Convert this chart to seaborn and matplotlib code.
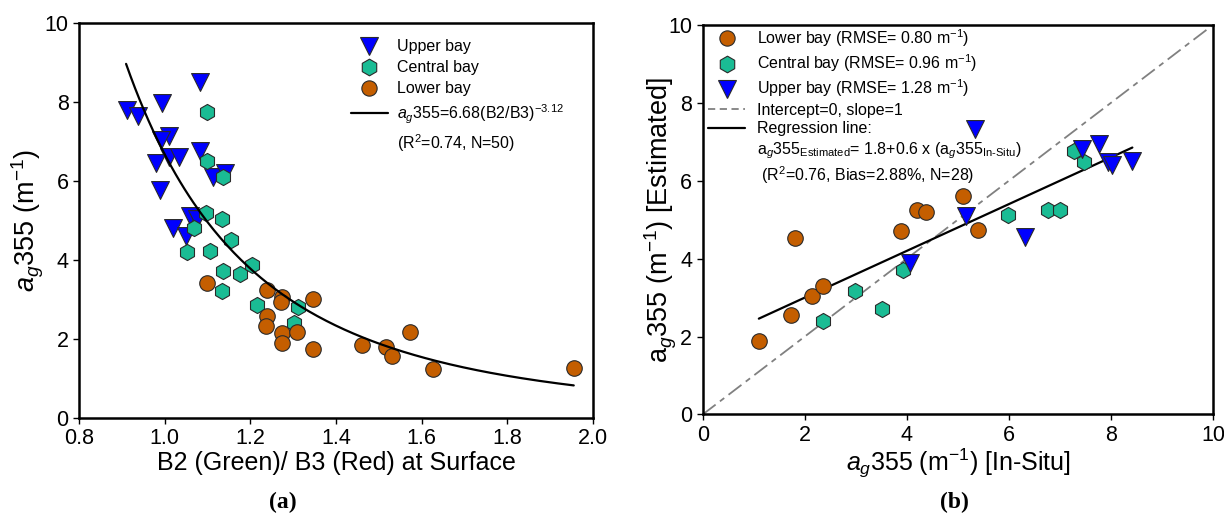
import numpy as np
import pandas as pd
import matplotlib
matplotlib.use("Agg")
import matplotlib.pyplot as plt
import seaborn as sns
from matplotlib.lines import Line2D

# ---- data ----
# panel (a): band ratio vs ag355
upper_ratio = [1.082, 0.911, 0.938, 0.993, 1.011, 0.991, 0.980, 1.011, 1.034, 1.082,
               1.113, 1.141, 0.989, 1.059, 1.075, 1.020, 1.050]
upper_ag = [8.51, 7.81, 7.65, 7.98, 7.14, 7.04, 6.46, 6.60, 6.62, 6.77,
            6.11, 6.19, 5.77, 5.11, 5.05, 4.80, 4.61]
central_ratio = [1.098, 1.098, 1.137, 1.096, 1.135, 1.068, 1.156, 1.053, 1.106, 1.137,
                 1.177, 1.205, 1.134, 1.216, 1.312, 1.302]
central_ag = [7.75, 6.51, 6.11, 5.20, 5.05, 4.80, 4.51, 4.19, 4.24, 3.72,
              3.65, 3.87, 3.22, 2.86, 2.80, 2.40]
lower_ratio = [1.098, 1.239, 1.273, 1.271, 1.347, 1.239, 1.236, 1.273, 1.309, 1.273,
               1.347, 1.460, 1.572, 1.516, 1.530, 1.627, 1.955]
lower_ag = [3.43, 3.24, 3.06, 2.93, 3.01, 2.57, 2.34, 2.14, 2.18, 1.89,
            1.74, 1.85, 2.18, 1.81, 1.58, 1.24, 1.26]
fit_a, fit_b = 6.68, -3.12
fit_range = [0.91, 1.955]

# panel (b): in-situ vs estimated
lower_insitu = [1.10, 1.73, 1.81, 2.14, 2.36, 3.88, 4.20, 4.37, 5.40, 5.11]
lower_est = [1.88, 2.56, 4.54, 3.04, 3.31, 4.70, 5.24, 5.20, 4.73, 5.60]
central_insitu = [2.36, 2.99, 3.52, 3.93, 5.98, 6.76, 7.01, 7.28, 7.48]
central_est = [2.39, 3.18, 2.71, 3.72, 5.12, 5.25, 5.25, 6.77, 6.47]
upper_insitu = [4.06, 5.16, 5.33, 6.32, 7.43, 7.77, 7.95, 8.03, 8.42]
upper_est = [3.90, 5.10, 7.33, 4.56, 6.82, 6.95, 6.47, 6.40, 6.50]
reg_intercept, reg_slope = 1.8, 0.6

# ---- styling ----
sns.set_theme(style="ticks")
plt.rcParams['font.family'] = ['Liberation Sans', 'DejaVu Sans']
plt.rcParams['mathtext.fontset'] = 'custom'
plt.rcParams['mathtext.rm'] = 'Liberation Sans'
plt.rcParams['mathtext.it'] = 'Liberation Sans:italic'
plt.rcParams['mathtext.bf'] = 'Liberation Sans:bold'
for k in ['text.color', 'axes.labelcolor', 'xtick.color', 'ytick.color', 'axes.edgecolor']:
    plt.rcParams[k] = 'black'

c_upper = "#0000FF"
c_central = "#1ABC94"
c_lower = "#C45E00"
edge = "#2a2a2a"
mk = {"Upper bay": "v", "Central bay": "h", "Lower bay": "o"}
pal = {"Upper bay": c_upper, "Central bay": c_central, "Lower bay": c_lower}
sizes = {"Upper bay": 165, "Central bay": 135, "Lower bay": 125}

df_a = pd.concat([
    pd.DataFrame({"ratio": upper_ratio, "ag": upper_ag, "site": "Upper bay"}),
    pd.DataFrame({"ratio": central_ratio, "ag": central_ag, "site": "Central bay"}),
    pd.DataFrame({"ratio": lower_ratio, "ag": lower_ag, "site": "Lower bay"}),
])
df_b = pd.concat([
    pd.DataFrame({"insitu": lower_insitu, "est": lower_est, "site": "Lower bay"}),
    pd.DataFrame({"insitu": central_insitu, "est": central_est, "site": "Central bay"}),
    pd.DataFrame({"insitu": upper_insitu, "est": upper_est, "site": "Upper bay"}),
])

fig = plt.figure(figsize=(12.24, 5.17), dpi=100)
ax1 = fig.add_axes([0.0645, 0.1915, 0.42, 0.764])
ax2 = fig.add_axes([0.5741, 0.1983, 0.4169, 0.7535])

blank = Line2D([], [], ls="", marker="")

# ---- panel (a) ----
for site in ["Upper bay", "Central bay", "Lower bay"]:
    sub = df_a[df_a.site == site]
    sns.scatterplot(data=sub, x="ratio", y="ag", ax=ax1, marker=mk[site], color=pal[site],
                    s=sizes[site], edgecolor=edge, linewidth=0.8, legend=False, zorder=3)
xf = np.linspace(fit_range[0], fit_range[1], 200)
ax1.plot(xf, fit_a * xf ** fit_b, color="black", lw=1.6, zorder=4)

ax1.set_xlim(0.8, 2.0)
ax1.set_ylim(0, 10)
ax1.set_xticks(np.arange(0.8, 2.01, 0.2))
ax1.set_xticklabels(["0.8", "1.0", "1.2", "1.4", "1.6", "1.8", "2.0"])
ax1.set_yticks(range(0, 11, 2))
ax1.set_xlabel("B2 (Green)/ B3 (Red) at Surface", fontsize=18, labelpad=1)
ax1.set_ylabel("$a_g355$ (m$^{-1}$)", fontsize=19.5, labelpad=-1)

h_a = [Line2D([], [], ls="", marker="v", ms=13, mfc=c_upper, mec=edge, mew=0.8),
       Line2D([], [], ls="", marker="h", ms=12, mfc=c_central, mec=edge, mew=0.8),
       Line2D([], [], ls="", marker="o", ms=11, mfc=c_lower, mec=edge, mew=0.8),
       Line2D([], [], color="black", lw=1.6),
       blank]
l_a = ["Upper bay", "Central bay", "Lower bay",
       "$a_g355$=6.68(B2/B3)$^{-3.12}$", "(R$^2$=0.74, N=50)"]
ax1.legend(h_a, l_a, loc="upper right", bbox_to_anchor=(0.955, 0.975), frameon=False,
           fontsize=11.5, handlelength=2.3, labelspacing=0.38, handletextpad=0.55,
           borderaxespad=0)

# ---- panel (b) ----
ax2.plot([0, 10], [0, 10], color="gray", lw=1.3, dashes=(9, 3, 3, 3), zorder=2)
xr = np.array([min(lower_insitu), max(upper_insitu)])
ax2.plot(xr, reg_intercept + reg_slope * xr, color="black", lw=1.6, zorder=2)
for site in ["Lower bay", "Central bay", "Upper bay"]:
    sub = df_b[df_b.site == site]
    sns.scatterplot(data=sub, x="insitu", y="est", ax=ax2, marker=mk[site], color=pal[site],
                    s=sizes[site], edgecolor=edge, linewidth=0.8, legend=False, zorder=3)

ax2.set_xlim(0, 10)
ax2.set_ylim(0, 10)
ax2.set_xticks(range(0, 11, 2))
ax2.set_yticks(range(0, 11, 2))
ax2.set_xlabel("$a_g355$ (m$^{-1}$) [In-Situ]", fontsize=18, labelpad=1)
ax2.set_ylabel("a$_g$355 (m$^{-1}$) [Estimated]", fontsize=19.5, labelpad=-8)

h_b = [Line2D([], [], ls="", marker="o", ms=11, mfc=c_lower, mec=edge, mew=0.8),
       Line2D([], [], ls="", marker="h", ms=12, mfc=c_central, mec=edge, mew=0.8),
       Line2D([], [], ls="", marker="v", ms=13, mfc=c_upper, mec=edge, mew=0.8),
       Line2D([], [], color="gray", lw=1.3, ls=(0, (4, 2.5))),
       Line2D([], [], color="black", lw=1.6),
       blank, blank]
l_b = ["Lower bay (RMSE= 0.80 m$^{-1}$)",
       "Central bay (RMSE= 0.96 m$^{-1}$)",
       "Upper bay (RMSE= 1.28 m$^{-1}$)",
       "Intercept=0, slope=1",
       "Regression line:",
       "a$_g$355$_{\\mathrm{Estimated}}$= 1.8+0.6 x (a$_g$355$_{\\mathrm{In\\text{-}Situ}}$)",
       " (R$^2$=0.76, Bias=2.88%, N=28)"]
ax2.legend(h_b, l_b, loc="upper left", bbox_to_anchor=(0.006, 1.0), frameon=False,
           fontsize=11.5, handlelength=2.3, labelspacing=0.22, handletextpad=0.75,
           borderaxespad=0.05, borderpad=0.1)

for ax in (ax1, ax2):
    for sp in ax.spines.values():
        sp.set_linewidth(1.8)
        sp.set_color("black")
    ax.tick_params(axis="both", direction="out", length=4, width=1.0, labelsize=15.5,
                   top=False, right=False, colors="black")
    ax.grid(False)

fig.text(0.231, 0.018, "(a)", ha="center", fontsize=17, fontweight="bold", family="Liberation Serif")
fig.text(0.780, 0.018, "(b)", ha="center", fontsize=17, fontweight="bold", family="Liberation Serif")

fig.savefig("out.png", dpi=100)
